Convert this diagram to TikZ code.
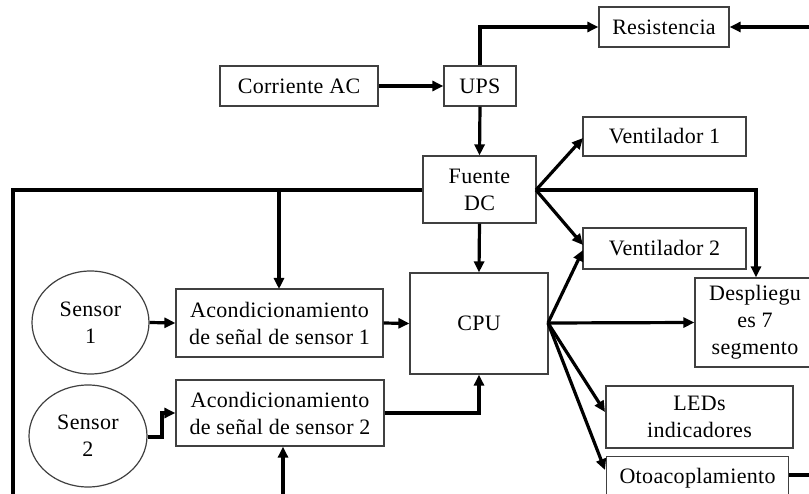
\documentclass[tikz,border=0pt]{standalone}
\usepackage{fontspec}
\setmainfont{Liberation Serif}[LetterSpace=1.5]
\usetikzlibrary{arrows.meta,shapes.geometric}

\tikzset{
  blk/.style={draw=black!75, line width=1.2pt, fill=white, inner sep=0pt,
    align=center, font=\fontsize{22}{27}\selectfont},
  oval/.style={blk, ellipse},
  wire/.style={line width=3.2pt, draw=black},
  feed/.style={wire, -{Triangle[length=11pt,width=10pt]}},
}

\begin{document}
\begin{tikzpicture}[x=1pt, y=-1pt]
\useasboundingbox (0,0) rectangle (809,494);

% power chain
\node[blk, minimum width=158pt, minimum height=40pt] (ac)  at (299,86)    {Corriente AC};
\node[blk, minimum width=72pt,  minimum height=40pt] (ups) at (480,86)    {UPS};
\node[blk, minimum width=130pt, minimum height=40pt] (res) at (664,27)    {Resistencia};
\node[blk, minimum width=113pt, minimum height=67pt] (fdc) at (479.5,189.5) {Fuente\\DC};

% loads
\node[blk, minimum width=163pt, minimum height=39pt] (v1)  at (664.5,136.5) {Ventilador 1};
\node[blk, minimum width=163pt, minimum height=41pt] (v2)  at (664.5,248.5) {Ventilador 2};
\node[blk, minimum width=120pt, minimum height=89pt] (dsp) at (755,322.5)   {Despliegu\\es 7\\segmento};
\node[blk, minimum width=187pt, minimum height=62pt] (led) at (699.5,417)   {LEDs\\indicadores};
\node[blk, minimum width=182pt, minimum height=44pt, anchor=north west] (oto) at (606,456) {Otoacoplamiento};

% processing
\node[blk, minimum width=138pt, minimum height=101pt] (cpu) at (479,323.5) {CPU};
\node[blk, minimum width=207pt, minimum height=68pt] (ac1) at (279.5,323) {Acondicionamiento\\de señal de sensor 1};
\node[blk, minimum width=208pt, minimum height=66pt] (ac2) at (280,413)   {Acondicionamiento\\de señal de sensor 2};

% sensors
\node[oval, minimum width=117pt, minimum height=103pt] (s1) at (90.5,322.5) {Sensor\\1};
\node[oval, minimum width=118pt, minimum height=102pt] (s2) at (88,436)     {Sensor\\2};

% loose ends leaving the frame
\coordinate (resin)  at (809,27);
\coordinate (frameL) at (13,494);
\coordinate (ac2in)  at (283,494);
\coordinate (otout)  at (809,475);
\coordinate (fdcR)   at (536,190);
\coordinate (cpuR)   at (548,323);

% power distribution
\draw[feed] (ac.east) -- (ups.west);
\draw[feed] (ups.north) |- (res.west);
\draw[feed] (resin) -- (res.east);
\draw[feed] (ups.south) -- (fdc.north);
\draw[wire] (fdc.west |- 0,190) -- (13,190) -- (frameL);
\draw[feed] (279,190) -- (279,289);
\draw[feed] (fdcR) -- (583,138);
\draw[feed] (fdcR) -- (583,245);
\draw[feed] (fdcR) -- (756,190) -- (dsp.north -| 756,0);
\draw[feed] (fdc.south) -- (cpu.north);

% signal path
\draw[feed] (s1.east) -- (ac1.west);
\draw[feed] (s2.east |- 0,437) -- (162,437) -- (162,413) -- (ac2.west);
\draw[feed] (ac1.east) -- (cpu.west);
\draw[feed] (ac2.east) -| (cpu.south);
\draw[feed] (ac2in) -- (ac2in |- ac2.south);

% CPU outputs
\draw[feed] (cpuR) -- (583,250);
\draw[feed] (cpuR) -- (dsp.west);
\draw[feed] (cpuR) -- (605,412);
\draw[feed] (cpuR) -- (605,470);
\draw[wire] (oto.east |- otout) -- (otout);
\end{tikzpicture}
\end{document}
